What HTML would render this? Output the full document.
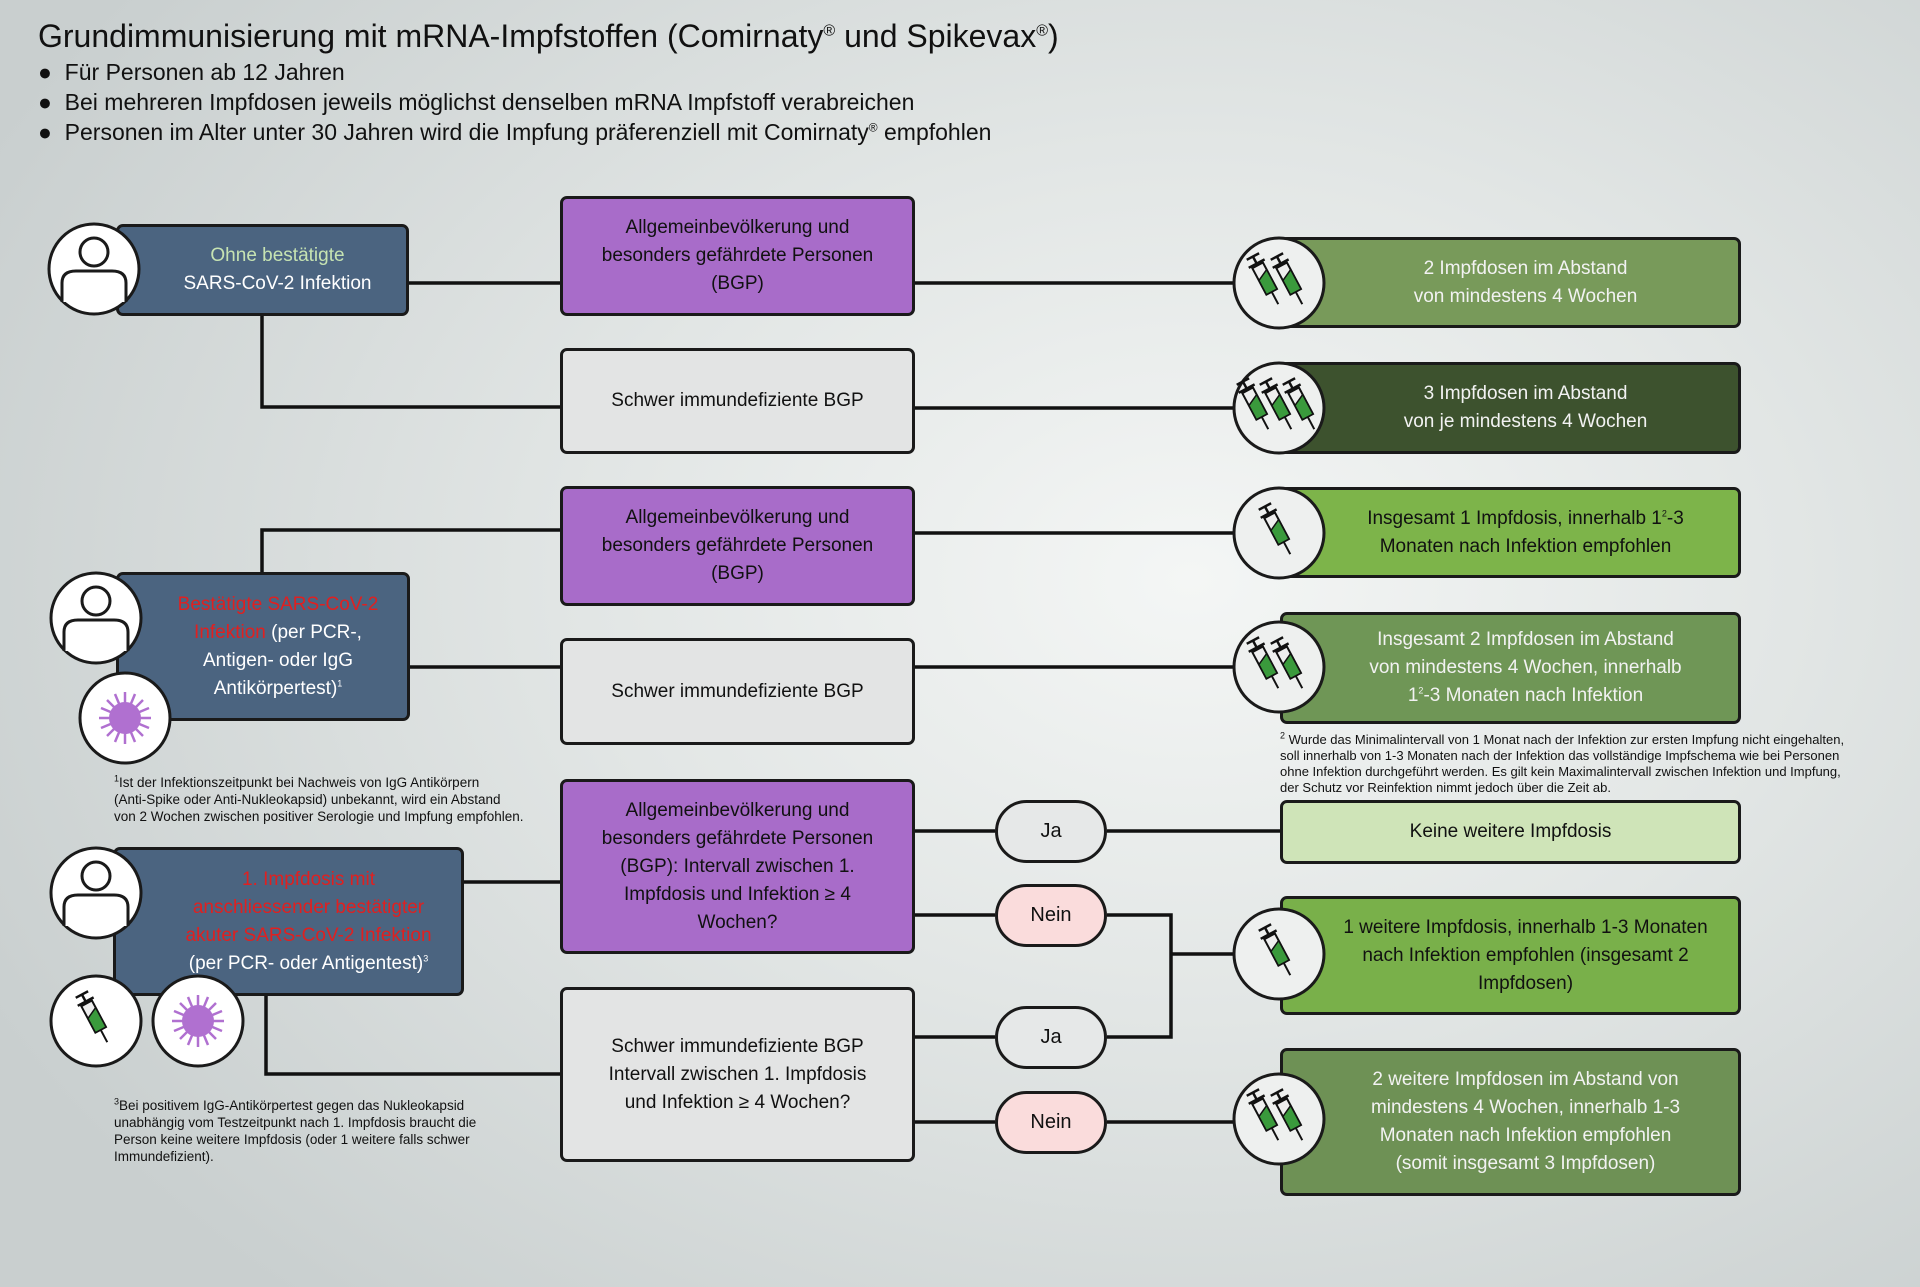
<!DOCTYPE html>
<html><head><meta charset="utf-8"><style>
*{margin:0;padding:0;box-sizing:border-box}
body{width:1920px;height:1287px;overflow:hidden;position:relative;font-family:"Liberation Sans Narrow","Liberation Sans",sans-serif;background:radial-gradient(ellipse 70% 75% at 62% 45%,#f4f6f5 0%,#e2e6e5 45%,#c9cfcf 100%);color:#111}
.t{position:absolute;white-space:nowrap}
.box{position:absolute;border:3px solid #1a1a1a;border-radius:7px;display:flex;align-items:center;justify-content:center;text-align:center;font-size:19px;line-height:28px}
.blue{background:#4b6480;color:#fff}
.pur{background:#a86cc9;color:#111}
.gry{background:#e3e4e4;color:#111}
.pill{position:absolute;width:112px;height:63px;border:3px solid #1a1a1a;border-radius:32px;display:flex;align-items:center;justify-content:center;font-size:20px}
.r{color:#e02020}
.fn{position:absolute;font-size:13.5px;line-height:17px;color:#111}
sup{font-size:9px;line-height:0;vertical-align:super}
svg{position:absolute;left:0;top:0}
</style></head><body>
<div class="t" style="left:38px;top:18px;font-size:32px">Grundimmunisierung mit mRNA-Impfstoffen (Comirnaty<sup style="font-size:16px">®</sup> und Spikevax<sup style="font-size:16px">®</sup>)</div>
<div class="t" style="left:38px;top:57px;font-size:23px;line-height:30px">●&nbsp; Für Personen ab 12 Jahren<br>●&nbsp; Bei mehreren Impfdosen jeweils möglichst denselben mRNA Impfstoff verabreichen<br>●&nbsp; Personen im Alter unter 30 Jahren wird die Impfung präferenziell mit Comirnaty<sup style="font-size:12px">®</sup> empfohlen</div>

<svg width="1920" height="1287" viewBox="0 0 1920 1287">
<defs>
<g id="syr">
<g transform="rotate(-28)">
<line x1="0" y1="-30" x2="0" y2="-22" stroke="#111" stroke-width="2.5"/>
<line x1="-7" y1="-30" x2="7" y2="-30" stroke="#111" stroke-width="2.5"/>
<line x1="-9" y1="-22" x2="9" y2="-22" stroke="#111" stroke-width="2.5"/>
<rect x="-6" y="-20" width="12" height="30" fill="#eee" stroke="#111" stroke-width="2"/>
<path d="M-6,-6 L6,-12 L6,10 L-6,10Z" fill="#3a9a3c" stroke="#111" stroke-width="1.5"/>
<line x1="0" y1="10" x2="0" y2="24" stroke="#111" stroke-width="2"/>
</g></g>
<g id="virus">
<g stroke="#b070d0" stroke-width="2.5">
<line x1="-26" y1="0" x2="26" y2="0"/><line x1="0" y1="-26" x2="0" y2="26"/>
<line x1="-18" y1="-18" x2="18" y2="18"/><line x1="-18" y1="18" x2="18" y2="-18"/>
<line x1="-24" y1="-10" x2="24" y2="10"/><line x1="-24" y1="10" x2="24" y2="-10"/>
<line x1="-10" y1="-24" x2="10" y2="24"/><line x1="10" y1="-24" x2="-10" y2="24"/>
</g>
<circle r="16" fill="#b070d0"/>
</g>
<g id="person">
<circle r="45" fill="#fff" stroke="#1a1a1a" stroke-width="3"/>
<circle cx="0" cy="-17" r="14" fill="#fff" stroke="#1a1a1a" stroke-width="3"/>
<path d="M-32,33 L-32,14 Q-32,2 -18,2 L18,2 Q32,2 32,14 L32,33" fill="#fff" stroke="#1a1a1a" stroke-width="3"/>
</g>
</defs>
<g stroke="#111" stroke-width="3.5" fill="none">
<path d="M409,283 H560 M915,283 H1240"/>
<path d="M262,316 V407 H560 M915,408 H1240"/>
<path d="M262,572 V530 H560 M915,533 H1240"/>
<path d="M410,667 H560 M915,667 H1240"/>
<path d="M464,882 H560"/>
<path d="M266,996 V1074 H560"/>
<path d="M915,831 H995 M1107,831 H1280"/>
<path d="M915,915 H995 M1107,915 H1171 V1037 H1107 M1171,954 H1240"/>
<path d="M915,1037 H995 M915,1122 H995 M1107,1122 H1240"/>
</g>
</svg>

<div class="box blue" style="left:116px;top:224px;width:293px;height:92px;padding-left:30px"><div><span style="color:#c6e3b2">Ohne bestätigte</span><br>SARS-CoV-2 Infektion</div></div>
<div class="box blue" style="left:116px;top:572px;width:294px;height:149px;padding-left:30px"><div><span class="r">Bestätigte SARS-CoV-2<br>Infektion</span> (per PCR-,<br>Antigen- oder IgG<br>Antikörpertest)<sup>1</sup></div></div>
<div class="box blue" style="left:113px;top:847px;width:351px;height:149px;padding-left:40px"><div><span class="r">1. Impfdosis mit<br>anschliessender bestätigter<br>akuter SARS-CoV-2 Infektion</span><br>(per PCR- oder Antigentest)<sup>3</sup></div></div>

<div class="box pur" style="left:560px;top:196px;width:355px;height:120px"><div>Allgemeinbevölkerung und<br>besonders gefährdete Personen<br>(BGP)</div></div>
<div class="box gry" style="left:560px;top:348px;width:355px;height:106px">Schwer immundefiziente BGP</div>
<div class="box pur" style="left:560px;top:486px;width:355px;height:120px"><div>Allgemeinbevölkerung und<br>besonders gefährdete Personen<br>(BGP)</div></div>
<div class="box gry" style="left:560px;top:638px;width:355px;height:107px">Schwer immundefiziente BGP</div>
<div class="box pur" style="left:560px;top:779px;width:355px;height:175px"><div>Allgemeinbevölkerung und<br>besonders gefährdete Personen<br>(BGP): Intervall zwischen 1.<br>Impfdosis und Infektion ≥ 4<br>Wochen?</div></div>
<div class="box gry" style="left:560px;top:987px;width:355px;height:175px"><div>Schwer immundefiziente BGP<br>Intervall zwischen 1. Impfdosis<br>und Infektion ≥ 4 Wochen?</div></div>

<div class="pill" style="left:995px;top:800px;background:#e6e8e8">Ja</div>
<div class="pill" style="left:995px;top:884px;background:#fadcdc">Nein</div>
<div class="pill" style="left:995px;top:1006px;background:#e6e8e8">Ja</div>
<div class="pill" style="left:995px;top:1091px;background:#fadcdc">Nein</div>

<div class="box" style="left:1280px;top:237px;width:461px;height:91px;background:#789a5a;color:#f2f2f2;padding-left:30px"><div>2 Impfdosen im Abstand<br>von mindestens 4 Wochen</div></div>
<div class="box" style="left:1280px;top:362px;width:461px;height:92px;background:#3d522e;color:#f2f2f2;padding-left:30px"><div>3 Impfdosen im Abstand<br>von je mindestens 4 Wochen</div></div>
<div class="box" style="left:1280px;top:487px;width:461px;height:91px;background:#7db44a;color:#111;padding-left:30px"><div>Insgesamt 1 Impfdosis, innerhalb 1<sup>2</sup>-3<br>Monaten nach Infektion empfohlen</div></div>
<div class="box" style="left:1280px;top:612px;width:461px;height:112px;background:#6f9656;color:#f2f2f2;padding-left:30px"><div>Insgesamt 2 Impfdosen im Abstand<br>von mindestens 4 Wochen, innerhalb<br>1<sup>2</sup>-3 Monaten nach Infektion</div></div>
<div class="fn" style="left:1280px;top:732px;font-size:13px;line-height:16px"><sup>2</sup> Wurde das Minimalintervall von 1 Monat nach der Infektion zur ersten Impfung nicht eingehalten,<br>soll innerhalb von 1-3 Monaten nach der Infektion das vollständige Impfschema wie bei Personen<br>ohne Infektion durchgeführt werden. Es gilt kein Maximalintervall zwischen Infektion und Impfung,<br>der Schutz vor Reinfektion nimmt jedoch über die Zeit ab.</div>
<div class="box" style="left:1280px;top:800px;width:461px;height:64px;background:#cfe4b8;color:#111">Keine weitere Impfdosis</div>
<div class="box" style="left:1280px;top:896px;width:461px;height:119px;background:#79b04a;color:#111;padding-left:30px"><div>1 weitere Impfdosis, innerhalb 1-3 Monaten<br>nach Infektion empfohlen (insgesamt 2<br>Impfdosen)</div></div>
<div class="box" style="left:1280px;top:1048px;width:461px;height:148px;background:#6e9155;color:#f2f2f2;padding-left:30px"><div>2 weitere Impfdosen im Abstand von<br>mindestens 4 Wochen, innerhalb 1-3<br>Monaten nach Infektion empfohlen<br>(somit insgesamt 3 Impfdosen)</div></div>

<div class="fn" style="left:114px;top:774px"><sup>1</sup>Ist der Infektionszeitpunkt bei Nachweis von IgG Antikörpern<br>(Anti-Spike oder Anti-Nukleokapsid) unbekannt, wird ein Abstand<br>von 2 Wochen zwischen positiver Serologie und Impfung empfohlen.</div>
<div class="fn" style="left:114px;top:1097px"><sup>3</sup>Bei positivem IgG-Antikörpertest gegen das Nukleokapsid<br>unabhängig vom Testzeitpunkt nach 1. Impfdosis braucht die<br>Person keine weitere Impfdosis (oder 1 weitere falls schwer<br>Immundefizient).</div>

<svg width="1920" height="1287" viewBox="0 0 1920 1287" style="pointer-events:none">
<use href="#person" x="94" y="269"/>
<use href="#person" x="96" y="618"/>
<circle cx="125" cy="718" r="45" fill="#fff" stroke="#1a1a1a" stroke-width="3"/><use href="#virus" x="125" y="718"/>
<use href="#person" x="96" y="893"/>
<circle cx="96" cy="1021" r="45" fill="#fff" stroke="#1a1a1a" stroke-width="3"/><use href="#syr" x="96" y="1021"/>
<circle cx="198" cy="1021" r="45" fill="#fff" stroke="#1a1a1a" stroke-width="3"/><use href="#virus" x="198" y="1021"/>

<circle cx="1279" cy="283" r="45" fill="#eef0ef" stroke="#1a1a1a" stroke-width="3"/><use href="#syr" x="1267" y="283"/><use href="#syr" x="1291" y="283"/>
<circle cx="1279" cy="408" r="45" fill="#eef0ef" stroke="#1a1a1a" stroke-width="3"/><use href="#syr" x="1257" y="408"/><use href="#syr" x="1280" y="408"/><use href="#syr" x="1303" y="408"/>
<circle cx="1279" cy="533" r="45" fill="#eef0ef" stroke="#1a1a1a" stroke-width="3"/><use href="#syr" x="1279" y="533"/>
<circle cx="1279" cy="667" r="45" fill="#eef0ef" stroke="#1a1a1a" stroke-width="3"/><use href="#syr" x="1267" y="667"/><use href="#syr" x="1291" y="667"/>
<circle cx="1279" cy="954" r="45" fill="#eef0ef" stroke="#1a1a1a" stroke-width="3"/><use href="#syr" x="1279" y="954"/>
<circle cx="1279" cy="1119" r="45" fill="#eef0ef" stroke="#1a1a1a" stroke-width="3"/><use href="#syr" x="1267" y="1119"/><use href="#syr" x="1291" y="1119"/>
</svg>
</body></html>
